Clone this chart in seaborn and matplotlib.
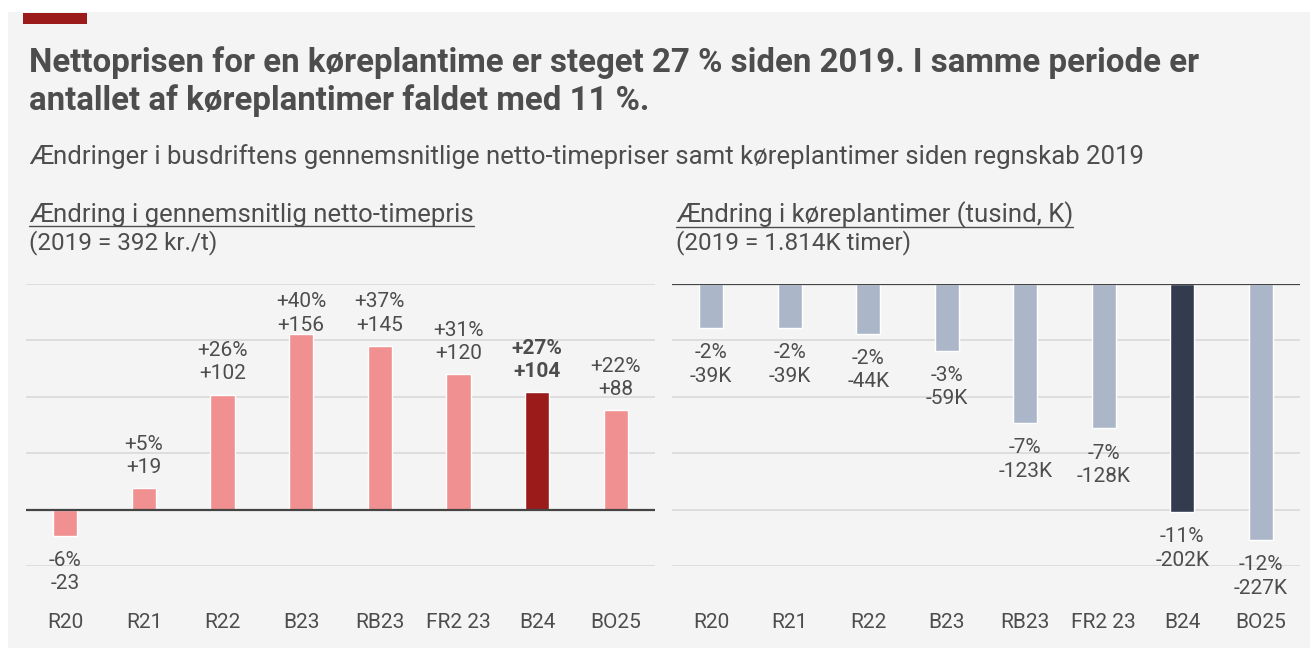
import numpy as np
import pandas as pd
import seaborn as sns
import matplotlib.pyplot as plt
from matplotlib.patches import Rectangle
from matplotlib.lines import Line2D

# Data
categories = ["R20", "R21", "R22", "B23", "RB23", "FR2 23", "B24", "BO25"]
price_change = [-23, 19, 102, 156, 145, 120, 104, 88]
price_pct = [-6, 5, 26, 40, 37, 31, 27, 22]
hours_change = [-39, -39, -44, -59, -123, -128, -202, -227]
hours_pct = [-2, -2, -2, -3, -7, -7, -11, -12]
highlight = "B24"

sns.set_theme(style="white")
plt.rcParams["font.family"] = ["Roboto", "DejaVu Sans"]

W, H = 1310, 657
fig = plt.figure(figsize=(W / 100, H / 100), dpi=100)
fig.patch.set_facecolor("white")

BG = "#f4f4f4"
TXT = "#4d4d4d"
GRID = "#d9d9d9"


def px(x0, y0, x1, y1):
    # pixel box (top-left origin) -> figure fraction rect
    return [x0 / W, 1 - y1 / H, (x1 - x0) / W, (y1 - y0) / H]


# background panel and red marker
fig.patches.append(Rectangle((8 / W, 1 - 648 / H), (W - 8) / W, (648 - 12) / H,
                             transform=fig.transFigure, facecolor=BG, edgecolor="none", zorder=-2))
fig.patches.append(Rectangle((23 / W, 1 - 24 / H), 64 / W, 11 / H,
                             transform=fig.transFigure, facecolor="#9b1b1b", edgecolor="none", zorder=-1))

fig.text(29 / W, 1 - 63 / H, "Nettoprisen for en køreplantime er steget 27 % siden 2019. I samme periode er",
         fontsize=23.75, fontweight="bold", color=TXT, va="center")
fig.text(29 / W, 1 - 101 / H, "antallet af køreplantimer faldet med 11 %.",
         fontsize=23.75, fontweight="bold", color=TXT, va="center")
fig.text(29 / W, 1 - 157 / H,
         "Ændringer i busdriftens gennemsnitlige netto-timepriser samt køreplantimer siden regnskab 2019",
         fontsize=18.5, color=TXT, va="center")

headers = []
headers.append(fig.text(29 / W, 1 - 215 / H, "Ændring i gennemsnitlig netto-timepris",
                        fontsize=18.5, color=TXT, va="center"))
fig.text(29 / W, 1 - 243 / H, "(2019 = 392 kr./t)", fontsize=17.5, color=TXT, va="center")
headers.append(fig.text(676 / W, 1 - 215 / H, "Ændring i køreplantimer (tusind, K)",
                        fontsize=18.5, color=TXT, va="center"))
fig.text(676 / W, 1 - 243 / H, "(2019 = 1.814K timer)", fontsize=17.5, color=TXT, va="center")

df = pd.DataFrame({"cat": categories, "price": price_change, "ppct": price_pct,
                   "hours": hours_change, "hpct": hours_pct})


def panel(ax, col, pcol, unit, base, dark, ylo, yhi, grid_vals, label_cap):
    ax.set_facecolor("none")
    colors = [dark if c == highlight else base for c in categories]
    sns.barplot(data=df, x="cat", y=col, hue="cat", palette=colors, legend=False,
                width=0.31, ax=ax, zorder=3, saturation=1)
    ax.set_xlim(-0.5, 7.5)
    ax.set_ylim(ylo, yhi)
    for g in grid_vals:
        if g == 0:
            ax.axhline(0, color="#444444", lw=1.6, zorder=4)
        else:
            ax.axhline(g, color=GRID, lw=1.2, zorder=1)
    for s in ax.spines.values():
        s.set_visible(False)
    ax.set_yticks([])
    ax.set_xlabel("")
    ax.set_ylabel("")
    ax.tick_params(axis="x", length=0, labelsize=15, labelcolor=TXT, pad=34)
    for i, (v, p) in enumerate(zip(df[col], df[pcol])):
        sign = "+" if v > 0 else ""
        lbl = f"{sign}{p}%\n{sign}{v}{unit}"
        weight = "bold" if categories[i] == highlight and v > 0 else "normal"
        if v >= 0:
            ax.annotate(lbl, (i, min(v, label_cap)), xytext=(0, 8), textcoords="offset points",
                        ha="center", va="bottom", fontsize=15, color=TXT,
                        fontweight=weight, linespacing=1.3, annotation_clip=False)
        else:
            ax.annotate(lbl, (i, v), xytext=(0, -11), textcoords="offset points",
                        ha="center", va="top", fontsize=15, color=TXT,
                        fontweight=weight, linespacing=1.3, annotation_clip=False)


ax1 = fig.add_axes(px(26, 284, 655, 566))
panel(ax1, "price", "ppct", "", "#f09090", "#9b1b1b", -50, 200,
      [-50, 0, 50, 100, 150, 200], label_cap=145)

ax2 = fig.add_axes(px(672, 284, 1300, 566))
panel(ax2, "hours", "hpct", "K", "#abb7c9", "#323c4e", -250, 0,
      [-250, -200, -150, -100, -50, 0], label_cap=0)

# underline the panel headers
fig.canvas.draw()
r = fig.canvas.get_renderer()
for t in headers:
    bb = t.get_window_extent(r).transformed(fig.transFigure.inverted())
    fig.add_artist(Line2D([bb.x0, bb.x1], [bb.y0 + 0.002, bb.y0 + 0.002],
                          transform=fig.transFigure, color=TXT, lw=1.0))

fig.savefig("out.png", dpi=100, facecolor="white")
